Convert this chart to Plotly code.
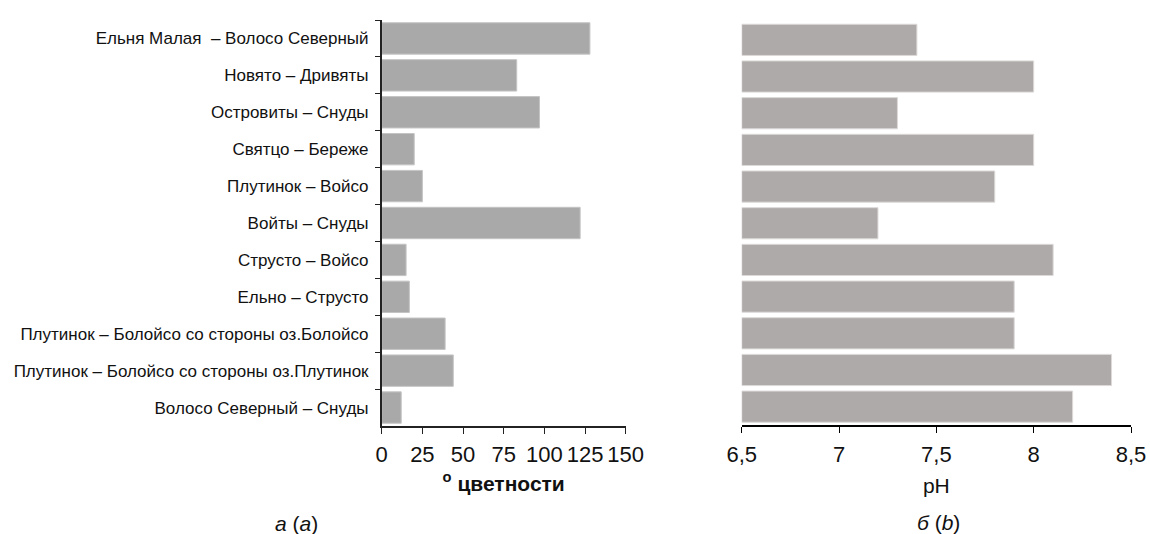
import plotly.graph_objects as go

# озёра / протоки, сверху вниз
sites = [
    "Ельня Малая  – Волосо Северный",
    "Новято – Дривяты",
    "Островиты – Снуды",
    "Святцо – Береже",
    "Плутинок – Войсо",
    "Войты – Снуды",
    "Струсто – Войсо",
    "Ельно – Струсто",
    "Плутинок – Болойсо со стороны оз.Болойсо",
    "Плутинок – Болойсо со стороны оз.Плутинок",
    "Волосо Северный – Снуды",
]
color_deg = [128, 83, 97, 20, 25, 122, 15, 17, 39, 44, 12]
ph = [7.4, 8.0, 7.3, 8.0, 7.8, 7.2, 8.1, 7.9, 7.9, 8.4, 8.2]

color_ticks = [0, 25, 50, 75, 100, 125, 150]
ph_ticks = [6.5, 7, 7.5, 8, 8.5]
ph_ticktext = ["6,5", "7", "7,5", "8", "8,5"]

W, H = 1150, 534
FONT = "Liberation Sans, Arial, sans-serif"

def px_x(v):
    return v / W

def px_y(v):
    return 1 - v / H

fig = go.Figure()

fig.add_trace(go.Bar(
    x=color_deg, y=sites, orientation="h",
    xaxis="x", yaxis="y",
    marker=dict(color="#a9a9a9", line=dict(color="#c4c4c4", width=1)),
    showlegend=False,
))

fig.add_trace(go.Bar(
    x=[v - 6.5 for v in ph], base=6.5, y=sites, orientation="h",
    xaxis="x2", yaxis="y2",
    marker=dict(color="#aeaaa9", line=dict(color="#dcd9d8", width=1)),
    showlegend=False,
))

fig.update_layout(
    width=W, height=H,
    margin=dict(l=0, r=0, t=0, b=0),
    paper_bgcolor="white", plot_bgcolor="white",
    bargap=0.15,
    font=dict(family=FONT, color="#111"),
    xaxis=dict(
        domain=[px_x(381.7), px_x(625.7)],
        range=[0, 150], tickvals=color_ticks,
        showline=True, linecolor="#222", linewidth=1.5,
        ticks="outside", ticklen=6, tickcolor="#222",
        tickfont=dict(size=22, color="#111"), ticklabelstandoff=2,
        showgrid=False, zeroline=False, automargin=False,
        title=dict(text="<b><sup>o</sup> цветности</b>", font=dict(size=21, color="#111"), standoff=10),
        anchor="y",
    ),
    yaxis=dict(
        domain=[px_y(426), px_y(20)],
        autorange="reversed", type="category",
        showline=True, linecolor="#222", linewidth=1.5,
        ticks="outside", ticklen=5, tickcolor="#222", tickson="boundaries",
        tickfont=dict(size=17, color="#111"), ticklabelstandoff=8,
        showgrid=False, zeroline=False, automargin=False,
        anchor="x",
    ),
    xaxis2=dict(
        domain=[px_x(741.7), px_x(1131)],
        range=[6.5, 8.5], tickvals=ph_ticks, ticktext=ph_ticktext,
        showline=True, linecolor="#000", linewidth=2,
        ticks="outside", ticklen=6, tickcolor="#000",
        tickfont=dict(size=22, color="#111"), ticklabelstandoff=3,
        showgrid=False, zeroline=False, automargin=False,
        title=dict(text="pH", font=dict(size=21, color="#111"), standoff=12),
        anchor="y2",
    ),
    yaxis2=dict(
        domain=[px_y(425), px_y(21.5)],
        autorange="reversed", type="category",
        showline=False, showticklabels=False, ticks="",
        showgrid=False, zeroline=False, automargin=False,
        anchor="x2",
    ),
    annotations=[
        dict(text="<i>а</i> (<i>a</i>)", x=px_x(296), y=px_y(523),
             xref="paper", yref="paper", showarrow=False,
             xanchor="center", yanchor="middle", font=dict(size=21, color="#111")),
        dict(text="<i>б</i> (<i>b</i>)", x=px_x(938), y=px_y(522),
             xref="paper", yref="paper", showarrow=False,
             xanchor="center", yanchor="middle", font=dict(size=21, color="#111")),
    ],
)

# drop the default page margin so the figure fills the window exactly
fig.write_html("out.html", config={"displayModeBar": False},
               post_script="document.body.style.margin = '0';")
